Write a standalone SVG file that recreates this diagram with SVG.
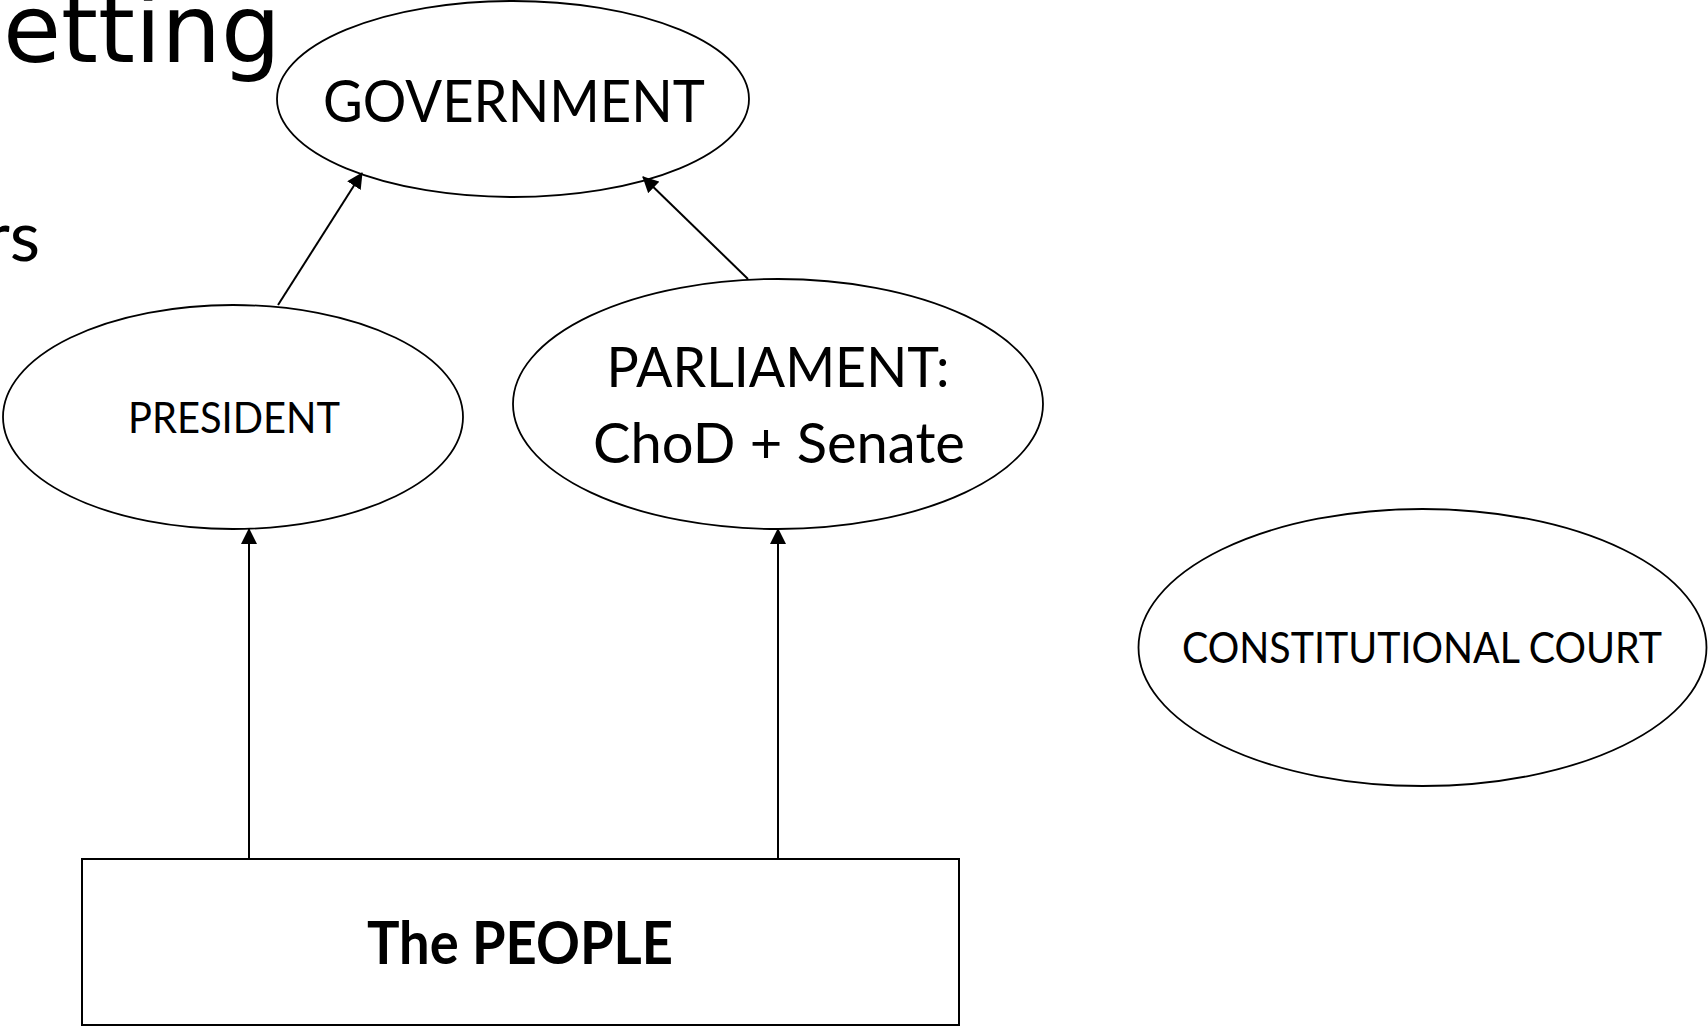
<svg xmlns="http://www.w3.org/2000/svg" width="1708" height="1028" viewBox="0 0 1708 1028">
<style>
.shape{fill:#fff;stroke:#000;stroke-width:1.8}
.lbl{font-family:Lato,"Open Sans","Liberation Sans",sans-serif;fill:#000;text-anchor:middle}
.edge{stroke:#000;stroke-width:2;fill:none;marker-end:url(#ah)}
.title{font-family:"DejaVu Sans","Liberation Sans",sans-serif;fill:#000}
</style>
<defs>
<marker id="ah" markerUnits="userSpaceOnUse" markerWidth="16" markerHeight="16" viewBox="0 0 16 16" refX="15" refY="8" orient="auto">
<path d="M0,0 L16,8 L0,16 z" fill="#000"/>
</marker>
</defs>
<rect width="1708" height="1028" fill="#fff"/>
<text class="title" x="3" y="62" font-size="94" textLength="278" lengthAdjust="spacingAndGlyphs">etting</text>
<text class="title" x="40" y="261" font-size="70" text-anchor="end" style="font-family:Lato,'Open Sans',sans-serif">rs</text>

<g id="government">
<ellipse class="shape" cx="513" cy="99" rx="236" ry="98"/>
<text class="lbl" x="514" y="122" font-size="59" textLength="382" lengthAdjust="spacingAndGlyphs">GOVERNMENT</text>
</g>
<g id="president">
<ellipse class="shape" cx="233" cy="417" rx="230" ry="112"/>
<text class="lbl" x="234" y="433" font-size="42" textLength="212" lengthAdjust="spacingAndGlyphs">PRESIDENT</text>
</g>
<g id="parliament">
<ellipse class="shape" cx="778" cy="404" rx="265" ry="125"/>
<text class="lbl" x="778" y="387" font-size="56" textLength="343" lengthAdjust="spacingAndGlyphs">PARLIAMENT:</text>
<text class="lbl" x="779" y="463" font-size="56" textLength="372" lengthAdjust="spacingAndGlyphs">ChoD + Senate</text>
</g>
<g id="constitutional-court">
<ellipse class="shape" cx="1422.5" cy="647.5" rx="284" ry="138.5"/>
<text class="lbl" x="1422" y="663" font-size="43" textLength="480" lengthAdjust="spacingAndGlyphs">CONSTITUTIONAL COURT</text>
</g>
<g id="people">
<rect class="shape" x="82" y="859" width="877" height="166" style="stroke-width:2"/>
<text class="lbl" x="520" y="964" font-size="59" font-weight="bold" textLength="306" lengthAdjust="spacingAndGlyphs">The PEOPLE</text>
</g>

<g id="connectors">
<line class="edge" x1="278" y1="305" x2="362" y2="173"/>
<line class="edge" x1="748" y1="279" x2="643" y2="177"/>
<line class="edge" x1="249" y1="859" x2="249" y2="529"/>
<line class="edge" x1="778" y1="859" x2="778" y2="529"/>
</g>
</svg>
